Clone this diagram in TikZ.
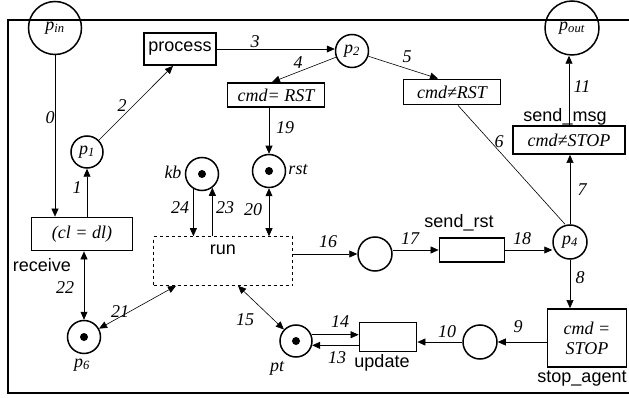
\documentclass[tikz,border=0pt]{standalone}
\usepackage{fontspec}
\setmainfont{Liberation Serif}
\setsansfont{Liberation Sans}
\usetikzlibrary{arrows.meta,positioning,calc}

\newcommand{\pname}[1]{\textit{p}\textsubscript{\textit{#1}}}

\tikzset{
  place/.style={circle, draw, line width=1.5pt, minimum size=33pt, inner sep=0pt,
    font=\itshape\fontsize{18}{20}\selectfont},
  token/.style={place, path picture={\fill (path picture bounding box.center) circle (4pt);}},
  trans/.style={rectangle, draw, line width=1.8pt, inner sep=1pt,
    font=\itshape\fontsize{18}{20}\selectfont},
  sans/.style={font=\sffamily\fontsize{18}{20}\selectfont, inner sep=0pt},
  num/.style={font=\itshape\fontsize{18}{20}\selectfont, inner sep=0pt},
  arc/.style={line width=0.6pt, -{Triangle[length=8pt,width=7pt]}},
  biarc/.style={line width=0.6pt, {Triangle[length=8pt,width=7pt]}-{Triangle[length=8pt,width=7pt]}},
}

\begin{document}
\begin{tikzpicture}[x=1pt, y=-1pt]
    \useasboundingbox (0,0) rectangle (629,398);

    % outer frame
    \draw[line width=1.8pt] (8,20) rectangle (640,393);

    % places
    \node[place, minimum size=53pt] (pin) at (55,28) {\pname{in}};
    \node[place, minimum size=32pt] (p1) at (87,152) {\pname{1}};
    \node[place] (p2) at (352,51) {\pname{2}};
    \node[place, minimum size=54pt] (pout) at (572,28) {\pname{out}};
    \node[place, minimum size=34pt] (p4) at (570,242) {\pname{4}};
    \node[place, minimum size=34pt] (prst) at (375,254) {};
    \node[place, minimum size=34pt] (pstop) at (480,342) {};
    \node[token] (kb) at (202,174) {};
    \node[token] (rst) at (269,171) {};
    \node[token] (p6) at (84,337) {};
    \node[token, minimum size=32pt] (pt) at (296,341) {};

    % transitions
    \node[trans, minimum width=72pt, minimum height=32pt, font=\sffamily\fontsize{18}{20}\selectfont] (process) at (180,49) {process};
    \node[trans, minimum width=97pt, minimum height=24pt] (rstT) at (276,95) {cmd= RST};
    \node[trans, minimum width=97pt, minimum height=25pt] (nrst) at (452,92) {cmd≠RST};
    \node[trans, minimum width=112pt, minimum height=28pt] (sendmsg) at (569,140) {cmd≠STOP};
    \node[trans, minimum width=65pt, minimum height=24pt] (sendrst) at (472,250) {};
    \node[trans, minimum width=79pt, minimum height=58pt, align=center] (stop) at (587,338) {cmd =\\STOP};
    \node[trans, minimum width=57pt, minimum height=29pt] (update) at (388,337) {};
    \node[trans, minimum width=101pt, minimum height=33pt] (receive) at (82,234) {(cl = dl)};
    \node[draw, dashed, line width=0.6pt, minimum width=139pt, minimum height=49pt] (run) at (223,261) {};

    % names
    \node[sans] (runlbl) at (223,250) {run};
    \node[sans] (recvlbl) at (42,265) {receive};
    \node[sans] (sendrstlbl) at (459,223) {send\_rst};
    \node[sans] (sendmsglbl) at (565,117) {send\_msg};
    \node[sans] (updatelbl) at (382,363) {update};
    \node[sans] (stoplbl) at (582,379) {stop\_agent};
    \node[num] (kblbl) at (173,172) {kb};
    \node[num] (rstlbl) at (298,170) {rst};
    \node[num] (p6lbl) at (82,365) {\pname{6}};
    \node[num] (ptlbl) at (277,368) {pt};

    % arcs
    \draw[arc] (pin) -- (pin |- receive.north);
    \draw[arc] (receive.north -| p1) -- (p1);
    \draw[arc] (p1) -- ([xshift=-7pt]process.south);
    \draw[arc] (process.east) -- (process.east -| p2.west);
    \draw[arc] (p2) -- ([xshift=-4pt]rstT.north);
    \draw[arc] (p2) -- ([xshift=-14pt]nrst.north);
    \draw[line width=0.6pt] ([xshift=6pt]nrst.south) -- ([xshift=-5pt]p4.north);
    \draw[arc] (p4) -- (p4 |- sendmsg.south);
    \draw[arc] (sendmsg.north) -- (sendmsg.north |- pout.south);
    \draw[arc] (p4) -- (p4 |- stop.north);
    \draw[arc] (stop.west |- pstop) -- (pstop);
    \draw[arc] (pstop) -- (pstop -| update.east);
    \draw[arc] (pt.22) -- (pt.22 -| update.west);
    \draw[arc] (pt.-15 -| update.west) -- (pt.-15);
    \draw[biarc] ([xshift=15pt]run.south) -- (pt);
    \draw[arc] (run.east |- prst) -- (prst);
    \draw[arc] (prst.east |- sendrst.west) -- (sendrst.west);
    \draw[arc] (sendrst.east) -- (sendrst.east -| p4.west);
    \draw[arc] (rstT.south -| rst) -- (rst);
    \draw[biarc] (rst) -- (rst |- run.north);
    \draw[arc] (kb.-120) -- (kb.-120 |- run.north);
    \draw[arc] (kb.-53 |- run.north) -- (kb.-53);
    \draw[biarc] (p6) -- ([xshift=-47pt]run.south);
    \draw[biarc] (receive.south -| p6) -- (p6);

    % arc numbers
    \foreach \n/\x/\y in {0/50/118, 1/77/188, 2/122/106, 3/255/42, 4/298/63,
        5/407/57, 6/499/142, 7/582/190, 8/580/278, 9/518/327, 10/447/332,
        11/582/87, 13/337/358, 14/340/322, 15/245/320, 16/328/242, 17/410/239,
        18/522/239, 19/285/128, 20/253/210, 21/120/312, 22/65/288, 23/225/208,
        24/180/208}
        \node[num] (n\n) at (\x,\y) {\n};
\end{tikzpicture}
\end{document}
